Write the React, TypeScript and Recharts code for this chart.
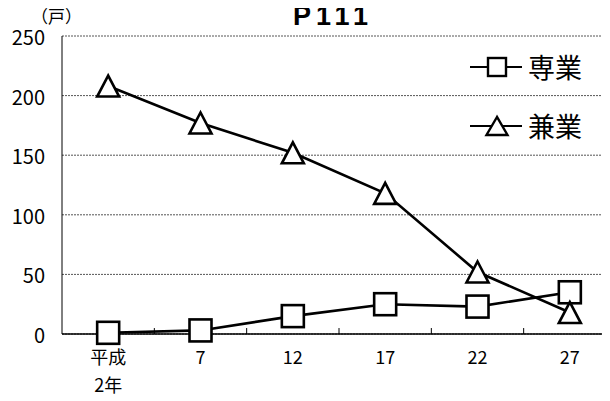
import React from "react";
import { LineChart, Line, XAxis, YAxis, CartesianGrid, ReferenceLine } from "recharts";

const categories = ["平成\n2年", "7", "12", "17", "22", "27"];
const senngyo = [1, 3, 15, 25, 23, 35];
const kengyo = [208, 177, 152, 118, 52, 18];
const seriesNames = ["専業", "兼業"];
const yTicks = [0, 50, 100, 150, 200, 250];
const innerTicks = [0.5, 1.5, 2.5, 3.5, 4.5];

const data = categories.map((c, i) => ({ idx: i, label: c, [seriesNames[0]]: senngyo[i], [seriesNames[1]]: kengyo[i] }));

const FONT = "'Noto Sans CJK JP', 'Noto Sans', sans-serif";

const SquareDot = (props: any) => {
  const { cx, cy, index } = props;
  if (cx == null || cy == null) return null;
  return <rect key={"s" + index} x={cx - 11} y={cy - 11} width={22} height={22} fill="#fff" stroke="#000" strokeWidth={2.6} />;
};

const TriangleDot = (props: any) => {
  const { cx, cy, index } = props;
  if (cx == null || cy == null) return null;
  const pts = `${cx},${cy - 10.5} ${cx - 11},${cy + 10.5} ${cx + 11},${cy + 10.5}`;
  return <polygon key={"t" + index} points={pts} fill="#fff" stroke="#000" strokeWidth={2.6} strokeLinejoin="miter" />;
};

const XTick = (props: any) => {
  const { x, y, payload } = props;
  const label = categories[payload.value] ?? "";
  const lines = label.split("\n");
  return (
    <text x={x} y={y} textAnchor="middle" fontSize={18} fontFamily={FONT} fill="#000">
      {lines.map((l: string, i: number) => (
        <tspan key={i} x={x} dy={i === 0 ? 22 : 28}>
          {l}
        </tspan>
      ))}
    </text>
  );
};

const YTick = (props: any) => {
  const { x, y, payload } = props;
  return (
    <text x={x} y={y + 9} textAnchor="end" fontSize={20} fontFamily={FONT} fill="#000">
      {payload.value}
    </text>
  );
};

const LegendOverlay = () => (
  <div style={{ position: "absolute", left: 468, top: 36, zIndex: 3 }}>
    {seriesNames.map((name, i) => (
      <div key={name} style={{ display: "flex", alignItems: "center", height: 29, marginTop: i === 0 ? 16 : 30 }}>
        <svg width={56} height={24} style={{ display: "block" }}>
          <line x1={2} y1={12} x2={54} y2={12} stroke="#000" strokeWidth={2.2} />
          {i === 0 ? (
            <rect x={20} y={3} width={18} height={18} fill="#fff" stroke="#000" strokeWidth={2.4} />
          ) : (
            <polygon points="29,3 18.5,21 39.5,21" fill="#fff" stroke="#000" strokeWidth={2.4} />
          )}
        </svg>
        <span style={{ fontFamily: FONT, fontSize: 27, color: "#000", marginLeft: 4, lineHeight: "29px" }}>{name}</span>
      </div>
    ))}
  </div>
);

export default function App() {
  return (
    <div style={{ position: "relative", width: 610, height: 401, overflow: "hidden", margin: "-8px 0 0 -8px", background: "#fff" }}>
      <svg width={610} height={36} style={{ position: "absolute", left: 0, top: 0, zIndex: 2 }}>
        <text x={333} y={25} textAnchor="middle" fontSize={27} fontWeight="bold" fontFamily="'Liberation Sans', Arial, sans-serif" letterSpacing={5} fill="#000">
          P111
        </text>
        <text x={31} y={23} fontSize={17} fontFamily={FONT} fill="#000">
          （戸）
        </text>
      </svg>
      <LegendOverlay />
      <LineChart width={620} height={401} data={data} margin={{ top: 36, right: 4, bottom: 0, left: 0 }}>
        <CartesianGrid vertical={false} stroke="#555" strokeDasharray="2 1" />
        <XAxis
          dataKey="idx"
          type="number"
          domain={[-0.5, 5.5]}
          ticks={[0, 1, 2, 3, 4, 5]}
          tick={<XTick />}
          tickLine={false}
          axisLine={{ stroke: "#000", strokeWidth: 1.5 }}
          height={67}
          interval={0}
          allowDecimals
        />
        <YAxis
          domain={[0, 250]}
          ticks={yTicks}
          width={62}
          tickLine={false}
          tickMargin={11}
          axisLine={{ stroke: "#000", strokeWidth: 1 }}
          tick={<YTick />}
          interval={0}
        />
        {innerTicks.map((t) => (
          <ReferenceLine key={t} segment={[{ x: t, y: 0 }, { x: t, y: 5 }]} stroke="#000" strokeWidth={1} ifOverflow="visible" />
        ))}
        <Line dataKey={seriesNames[0]} stroke="#000" strokeWidth={2.6} dot={<SquareDot />} isAnimationActive={false} />
        <Line dataKey={seriesNames[1]} stroke="#000" strokeWidth={2.6} dot={<TriangleDot />} isAnimationActive={false} />
      </LineChart>
    </div>
  );
}
